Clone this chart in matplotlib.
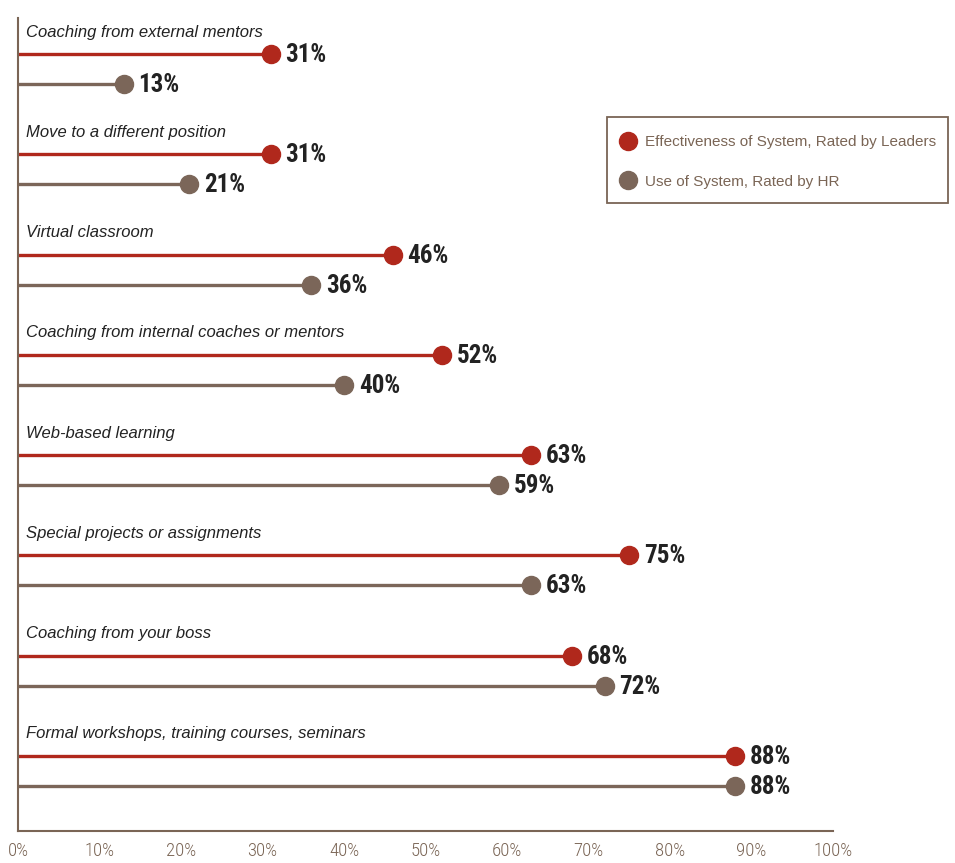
import numpy as np
from matplotlib import pyplot as plt
from matplotlib.lines import Line2D
from matplotlib.patches import Rectangle

categories = [
    'Coaching from external mentors',
    'Move to a different position',
    'Virtual classroom',
    'Coaching from internal coaches or mentors',
    'Web-based learning',
    'Special projects or assignments',
    'Coaching from your boss',
    'Formal workshops, training courses, seminars',
]
leaders = [31, 31, 46, 52, 63, 75, 68, 88]
hr_use = [13, 21, 36, 40, 59, 63, 72, 88]
series_names = ['Effectiveness of System, Rated by Leaders',
                'Use of System, Rated by HR']
xticks = np.arange(0, 101, 10)

red = '#B0281C'
brown = '#7B6659'
axis_col = '#7A6555'
text_col = '#222222'
cond = ['Roboto Condensed', 'DejaVu Sans']

plt.rcParams['font.family'] = ['Liberation Sans', 'DejaVu Sans']

W, H = 955, 863
fig = plt.figure(figsize=(W / 100, H / 100), dpi=100)
ax = fig.add_axes([18 / W, 32 / H, 815 / W, 813 / H])

y = np.arange(len(categories))
off = 0.30
for i, cat in enumerate(categories):
    ax.plot([0, leaders[i]], [y[i], y[i]], color=red, lw=2.4,
            solid_capstyle='butt', zorder=2)
    ax.plot([leaders[i]], [y[i]], 'o', color=red, ms=13, zorder=3)
    ax.plot([0, hr_use[i]], [y[i] + off, y[i] + off], color=brown, lw=2.4,
            solid_capstyle='butt', zorder=2)
    ax.plot([hr_use[i]], [y[i] + off], 'o', color=brown, ms=13, zorder=3)
    ax.text(leaders[i] + 1.8, y[i] + 0.01, '%d%%' % leaders[i], va='center',
            ha='left', fontsize=18, fontweight='bold', family=cond,
            color=text_col)
    ax.text(hr_use[i] + 1.8, y[i] + off + 0.01, '%d%%' % hr_use[i],
            va='center', ha='left', fontsize=18, fontweight='bold',
            family=cond, color=text_col)
    ax.text(1.0, y[i] - 0.22, cat, va='center', ha='left', fontsize=12,
            style='italic', color=text_col)

ax.set_xlim(0, 100)
ax.set_ylim(len(categories) - 1 + off + 0.45, -0.36)
ax.set_yticks([])
ax.set_xticks(xticks)
ax.set_xticklabels(['%d%%' % t for t in xticks], family=cond,
                   fontweight='light', fontsize=13.5, color=axis_col)
ax.tick_params(axis='x', length=0, pad=8)
for s in ['top', 'right']:
    ax.spines[s].set_visible(False)
for s in ['left', 'bottom']:
    ax.spines[s].set_color(axis_col)
    ax.spines[s].set_linewidth(1.5)

# legend box drawn separately so its size can be set freely
fig.patches.append(Rectangle((607 / W, 1 - 203 / H), 341 / W, 86 / H,
                             transform=fig.transFigure, fill=False,
                             edgecolor=axis_col, lw=1.3))
handles = [Line2D([], [], ls='', marker='o', ms=13, color=red),
           Line2D([], [], ls='', marker='o', ms=13, color=brown)]
leg = ax.legend(handles, series_names, loc='upper left',
                bbox_to_anchor=(620.5 / W, 1 - 135 / H),
                bbox_transform=fig.transFigure, frameon=False,
                fontsize=11, labelcolor=axis_col, handletextpad=0.62,
                borderpad=0, labelspacing=1.67, handlelength=1.0,
                borderaxespad=0)

fig.savefig('out.png', dpi=100)
